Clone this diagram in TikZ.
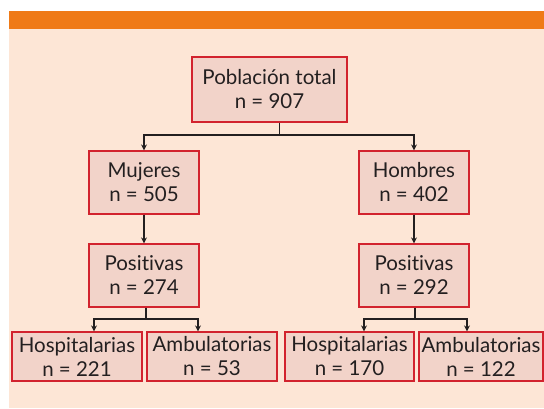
\documentclass[tikz,border=0pt]{standalone}
\usepackage{fontspec}
\setmainfont{Lato}[Ligatures=NoCommon]
\usepackage{xcolor}
\usepackage{tikz}
\usetikzlibrary{arrows.meta,calc}
\definecolor{naranja}{HTML}{EF7A17}
\definecolor{fondo}{HTML}{FDE6D6}
\definecolor{relleno}{HTML}{F2D3C9}
\definecolor{borde}{HTML}{D2232E}
\definecolor{texto}{HTML}{231F20}

\begin{document}
\begin{tikzpicture}[
    x=1pt, y=-1pt,
    caja/.style={
      rectangle,
      draw=borde,
      line width=1.2pt,
      fill=relleno,
      text=texto,
      align=center,
      inner sep=0pt,
      font=\fontsize{20.5}{24}\selectfont
    },
    flecha/.style={
      draw=texto,
      line width=1.1pt,
      -{Stealth[length=6pt,width=6pt]}
    },
    linea/.style={
      draw=texto,
      line width=1.1pt
    }
  ]
  \useasboundingbox (0,0) rectangle (544,409);
  \fill[white] (0,0) rectangle (544,409);
  \fill[fondo] (9,29) rectangle (544,408);
  \fill[naranja] (9,11) rectangle (544,29);

  \node[caja, minimum width=155pt, minimum height=65pt] (total) at (269.5,89.5)
    {Población total\\n = 907};
  \node[caja, minimum width=110pt, minimum height=63pt] (mujeres) at (144,182.5)
    {Mujeres\\n = 505};
  \node[caja, minimum width=110pt, minimum height=63pt] (hombres) at (414,182.5)
    {Hombres\\n = 402};
  \node[caja, minimum width=110pt, minimum height=63pt] (posM) at (144,275.5)
    {Positivas\\n = 274};
  \node[caja, minimum width=110pt, minimum height=63pt] (posH) at (414,275.5)
    {Positivas\\n = 292};
  \node[caja, minimum width=130pt, minimum height=49pt] (hospM) at (77,356.5)
    {Hospitalarias\\n = 221};
  \node[caja, minimum width=130pt, minimum height=49pt] (ambM) at (212,356.5)
    {Ambulatorias\\n = 53};
  \node[caja, minimum width=129pt, minimum height=49pt] (hospH) at (349.5,356.5)
    {Hospitalarias\\n = 170};
  \node[caja, minimum width=124pt, minimum height=49pt] (ambH) at (481,356.5)
    {Ambulatorias\\n = 122};

  \coordinate (r0) at (279.5,135);
  \coordinate (rM) at (146,319);
  \coordinate (rH) at (415,319);

  \draw[linea] (total.south -| r0) -- (r0);
  \draw[flecha] (r0) -| (mujeres.north);
  \draw[flecha] (r0) -| (hombres.north);
  \draw[flecha] (mujeres) -- (posM);
  \draw[flecha] (hombres) -- (posH);

  \draw[linea] (posM.south -| rM) -- (rM);
  \draw[flecha] (rM) -| ([xshift=17pt]hospM.north);
  \draw[flecha] (rM) -| ([xshift=-14pt]ambM.north);
  \draw[linea] (posH.south -| rH) -- (rH);
  \draw[flecha] (rH) -| ([xshift=14.5pt]hospH.north);
  \draw[flecha] (rH) -| ([xshift=-14pt]ambH.north);
\end{tikzpicture}
\end{document}
